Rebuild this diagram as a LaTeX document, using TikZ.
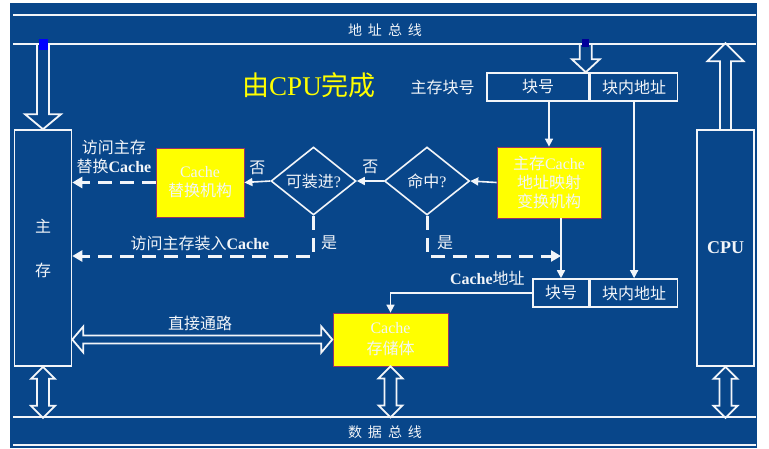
\documentclass[tikz,border=0pt]{standalone}
\usepackage{fontspec}
\setmainfont{Liberation Serif}
\newfontfamily\cjk{Noto Sans CJK SC}
\usetikzlibrary{arrows.meta, positioning, shapes.geometric, calc}
\definecolor{slideblue}{HTML}{08468A}
\definecolor{boxyellow}{HTML}{FFFF00}
\definecolor{boxedge}{HTML}{993366}
\definecolor{markblue}{HTML}{0000FF}
\definecolor{markdark}{HTML}{000099}
\definecolor{inkwhite}{HTML}{F2F5F9}

\begin{document}
\begin{tikzpicture}[x=1pt, y=-1pt,
    every node/.style={text=inkwhite, font=\fontsize{16}{18}\selectfont},
    cn/.style={font=\cjk\fontsize{16}{19}\selectfont},
    unit/.style={draw=inkwhite, line width=1.6pt, minimum width=57, minimum height=236},
    field/.style={draw=inkwhite, line width=1.6pt, minimum height=28, inner sep=0pt},
    yelbox/.style={draw=boxedge, fill=boxyellow, line width=0.8pt, align=center, inner sep=0pt},
    decide/.style={diamond, draw=inkwhite, line width=1.6pt, minimum width=85,
                   minimum height=68, aspect=1.25, inner sep=0pt},
    arr/.style={draw=inkwhite, line width=1.6pt, -{Triangle[length=8pt, width=8pt]}},
    dasharr/.style={draw=inkwhite, line width=3pt, dash pattern=on 14pt off 8pt,
                    -{Triangle[length=10pt, width=11pt]}},
    hollow/.style={draw=inkwhite, line width=1.8pt, line join=miter},
    bus/.style={draw=inkwhite, line width=1.6pt}
  ]
    \useasboundingbox (0,0) rectangle (769,448);
    \fill[slideblue] (10,3) rectangle (757,448);

    \draw[bus] (13,15) -- (756,15);
    \draw[bus] (13,44) -- (756,44);
    \draw[bus] (13,417) -- (756,417);
    \draw[bus] (13,445) -- (756,445);
    \coordinate (lowline) at (0,256);
    \node[font=\cjk\fontsize{14}{16}\selectfont] (abuslbl) at (385,30)
      {地\hspace{6pt}址\hspace{6pt}总\hspace{6pt}线};
    \node[font=\cjk\fontsize{14}{16}\selectfont] (dbuslbl) at (385,432)
      {数\hspace{6pt}据\hspace{6pt}总\hspace{6pt}线};

    \node[text=boxyellow, font=\fontsize{27}{30}\selectfont] (title) at (309,85)
      {{\cjk 由}CPU{\cjk 完成}};

    \node[unit, cn, align=center] (mem) at (43,248) {主\\[25pt]存};
    \node[unit, font=\bfseries\fontsize{18}{20}\selectfont] (cpu) at (725.5,248) {CPU};

    \node[field, cn, minimum width=102] (blk1) at (538,87) {块号};
    \node[field, cn, minimum width=87, right=0pt of blk1] (off1) {块内地址};
    \node[cn, left=8pt of blk1] (blkno) {主存块号};

    \node[yelbox, cn, minimum width=104, minimum height=71] (map) at (549,182.5)
      {主存{\rmfamily Cache}\\地址映射\\变换机构};
    \node[decide, cn] (hit) at (427,181) {命中{\rmfamily ?}};
    \node[decide, cn] (canload) at (313.5,181) {可装进{\rmfamily ?}};
    \node[yelbox, cn, minimum width=88, minimum height=69] (repl) at (200,182.5)
      {{\rmfamily Cache}\\替换机构};

    \node[field, cn, minimum width=56] (blk2) at (561,293) {块号};
    \node[field, cn, minimum width=87, right=0pt of blk2] (off2) {块内地址};
    \node[anchor=east, xshift=-4pt] (cacheaddr) at (blk2.north west)
      {\textbf{Cache}{\cjk 地址}};

    \node[yelbox, cn, minimum width=115, minimum height=53] (cache) at (390.5,339.5)
      {{\rmfamily Cache}\\[2pt]存储体};
    \node[cn] (direct) at (200,323) {直接通路};

    \draw[arr] (blk1.south -| map.north) -- (map.north);
    \draw[arr] (off1.south) -- (off2.north);
    \draw[arr] (map.west) -- (hit.east);
    \draw[arr] (hit.west) -- node[cn, above=3pt] (no1) {否} (canload.east);
    \draw[arr] (canload.west) -- node[cn, above=3pt] (no2) {否} (repl.east);
    \draw[dasharr] (repl.west) -- node[above=4pt, align=center] (swaplbl)
      {{\cjk 访问主存}\\[1pt]{\cjk 替换}\textbf{Cache}} (repl.west -| mem.east);
    \draw[dasharr] (canload.south) |- (mem.east |- lowline);
    \node[cn] (yes1) at (329,243) {是};
    \node (loadlbl) at (200,243) {{\cjk 访问主存装入}\textbf{Cache}};
    \draw[dasharr] (hit.south) |- (blk2.north |- lowline);
    \node[cn] (yes2) at (445,243) {是};
    \draw[arr] (map.south -| blk2.north) -- (blk2.north);
    \draw[arr] (blk2.west) -| (cache.north);

    \draw[hollow] (mem.north) -- ++(-18,-15) -- ++(12,0) -- ++(0,-71)
      ++(12,0) -- ++(0,71) -- ++(12,0) -- (mem.north);
    \draw[hollow] ([xshift=-4pt]blk1.north east) -- ++(-14,-13) -- ++(8,0) -- ++(0,-16)
      ++(12,0) -- ++(0,16) -- ++(8,0) -- ([xshift=-4pt]blk1.north east);
    \draw[hollow] ([xshift=-5.5pt]cpu.north) -- ++(0,-68) -- ++(-12.5,0) -- ++(18,-18)
      -- ++(18,18) -- ++(-12.5,0) -- ++(0,68);
    \draw[hollow] (mem.south) -- ++(12,12) -- ++(-6,0) -- ++(0,27) -- ++(6,0)
      -- ++(-12,12) -- ++(-12,-12) -- ++(6,0) -- ++(0,-27) -- ++(-6,0) -- cycle;
    \draw[hollow] (cache.south) -- ++(12,12) -- ++(-6,0) -- ++(0,27) -- ++(6,0)
      -- ++(-12,12) -- ++(-12,-12) -- ++(6,0) -- ++(0,-27) -- ++(-6,0) -- cycle;
    \draw[hollow] (cpu.south) -- ++(12,12) -- ++(-6,0) -- ++(0,27) -- ++(6,0)
      -- ++(-12,12) -- ++(-12,-12) -- ++(6,0) -- ++(0,-27) -- ++(-6,0) -- cycle;
    \draw[hollow] (mem.east |- cache.west) -- ++(11,-13) -- ++(0,9) -- ++(238,0)
      -- ++(0,-9) -- ++(11,13) -- ++(-11,13) -- ++(0,-9) -- ++(-238,0) -- ++(0,9) -- cycle;

    \fill[markblue] (39,39) rectangle (48,50);
    \fill[markdark] (582,39) rectangle (589,47);
  \end{tikzpicture}
\end{document}
